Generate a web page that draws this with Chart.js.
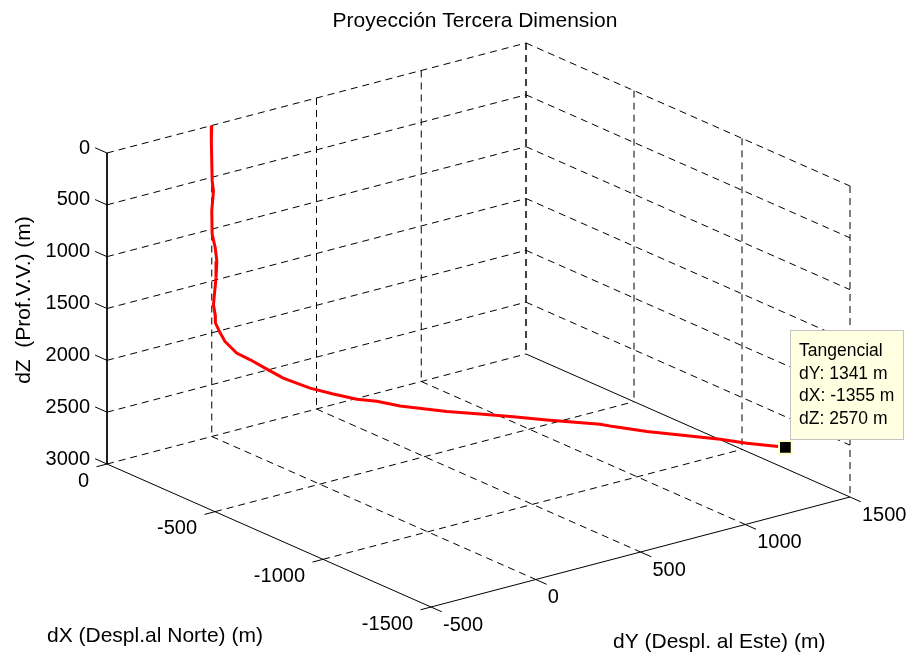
<!DOCTYPE html>
<html>
<head>
    <title>Proyección Tercera Dimension</title>
    <script src="https://cdn.jsdelivr.net/npm/chart.js"></script>
    <style>
        body { margin: 0; background: #fff; }
        canvas { display: block; }
    </style>
</head>
<body>
    <canvas id="pozo3d" width="913" height="659"></canvas>
    <script>
        // Trayectoria del pozo (m)
        const dY = [0, -1, 1, 4, 0, 1, 8, 12, 10, 4, 8, 8, 18, 31, 58, 90, 129, 167, 230, 284, 339, 386, 440, 550, 627, 705, 783, 908, 939, 1017, 1095, 1189, 1251, 1341];
        const dX = [0, 1, -1, -4, 0, -1, -8, -12, -10, -4, -8, -9, -18, -31, -59, -91, -130, -169, -232, -287, -343, -390, -445, -555, -634, -713, -792, -918, -949, -1028, -1107, -1201, -1264, -1355];
        const dZ = [0, 150, 534, 630, 825, 1050, 1173, 1304, 1463, 1726, 1822, 1899, 1979, 2071, 2172, 2224, 2299, 2370, 2442, 2476, 2505, 2506, 2529, 2541, 2532, 2527, 2527, 2519, 2530, 2547, 2548, 2552, 2566, 2570];

        // Marcas de los ejes
        const ticksX = [0, -500, -1000, -1500];
        const ticksY = [-500, 0, 500, 1000, 1500];
        const ticksZ = [0, 500, 1000, 1500, 2000, 2500, 3000];

        // Limites de la caja
        const limX = [-1500, 0];
        const limY = [-500, 1500];
        const limZ = [0, 3000];

        // Dato señalado al final del pozo
        const tipNombre = "Tangencial";
        const tipY = 1341, tipX = -1355, tipZ = 2570;

        // Vista: pixel de la esquina (dX=0, dY=-500, dZ=3000) y de los extremos de cada eje
        const vista = {
            origen: [107, 464],
            finX: [431, 607],   // dX = -1500
            finY: [526, 354],   // dY = 1500
            finZ: [107, 153]    // dZ = 0
        };

        function proyectar(x, y, z) {
            const fx = (limX[1] - x) / (limX[1] - limX[0]);
            const fy = (y - limY[0]) / (limY[1] - limY[0]);
            const fz = (limZ[1] - z) / (limZ[1] - limZ[0]);
            const o = vista.origen;
            return {
                x: o[0] + fx * (vista.finX[0] - o[0]) + fy * (vista.finY[0] - o[0]) + fz * (vista.finZ[0] - o[0]),
                y: o[1] + fx * (vista.finX[1] - o[1]) + fy * (vista.finY[1] - o[1]) + fz * (vista.finZ[1] - o[1])
            };
        }

        function linea(lista, a, b) {
            lista.push(proyectar(...a), proyectar(...b), { x: null, y: null });
        }

        // Rejilla punteada: paredes del fondo y piso
        const rejilla = [];
        ticksZ.forEach(z => linea(rejilla, [0, limY[0], z], [0, limY[1], z]));
        ticksY.slice(1).forEach(y => linea(rejilla, [0, y, limZ[0]], [0, y, limZ[1]]));
        ticksZ.slice(0, -1).forEach(z => linea(rejilla, [0, limY[1], z], [limX[0], limY[1], z]));
        ticksX.forEach(x => linea(rejilla, [x, limY[1], limZ[0]], [x, limY[1], limZ[1]]));
        ticksX.slice(1, -1).forEach(x => linea(rejilla, [x, limY[0], limZ[1]], [x, limY[1], limZ[1]]));
        ticksY.slice(1, -1).forEach(y => linea(rejilla, [0, y, limZ[1]], [limX[0], y, limZ[1]]));

        // Ejes y marcas
        const ejes = [];
        linea(ejes, [0, limY[0], limZ[0]], [0, limY[0], limZ[1]]);
        linea(ejes, [0, limY[0], limZ[1]], [limX[0], limY[0], limZ[1]]);
        linea(ejes, [limX[0], limY[0], limZ[1]], [limX[0], limY[1], limZ[1]]);
        linea(ejes, [0, limY[1], limZ[1]], [limX[0], limY[1], limZ[1]]);
        ticksZ.forEach(z => linea(ejes, [0, limY[0], z], [55, limY[0], z]));
        ticksX.forEach(x => linea(ejes, [x, limY[0], limZ[1]], [x, limY[0] - 50, limZ[1]]));
        ticksY.forEach(y => linea(ejes, [limX[0], y, limZ[1]], [limX[0] - 50, y, limZ[1]]));

        const trayectoria = dY.map((y, i) => proyectar(dX[i], y, dZ[i]));

        const fuente = px => px + 'px "Liberation Sans", Arial, sans-serif';

        // Textos: titulo, etiquetas de ejes, valores de marcas y cuadro del dato
        const textos = {
            id: 'textos',
            afterDraw(chart) {
                const ctx = chart.ctx;
                ctx.save();
                ctx.fillStyle = '#000';

                ctx.font = fuente(21);
                ctx.textAlign = 'center';
                ctx.textBaseline = 'alphabetic';
                ctx.fillText('Proyección Tercera Dimension', 475, 27);

                ctx.textAlign = 'left';
                ctx.fillText('dX (Despl.al Norte) (m)', 47, 642);
                ctx.fillText('dY (Despl. al Este) (m)', 613, 648);

                ctx.save();
                ctx.translate(30, 300);
                ctx.rotate(-Math.PI / 2);
                ctx.textAlign = 'center';
                ctx.fillText('dZ  (Prof.V.V.) (m)', 0, 0);
                ctx.restore();

                ctx.font = fuente(20);
                ctx.textBaseline = 'middle';
                ctx.textAlign = 'right';
                ticksZ.forEach(z => {
                    const p = proyectar(0, limY[0], z);
                    ctx.fillText(String(z), p.x - 17, p.y - 5);
                });
                ticksX.forEach(x => {
                    const p = proyectar(x, limY[0], limZ[1]);
                    ctx.fillText(String(x), p.x - 18, p.y + 17);
                });
                ctx.textAlign = 'left';
                ticksY.forEach(y => {
                    const p = proyectar(limX[0], y, limZ[1]);
                    ctx.fillText(String(y), p.x + 12, p.y + 18);
                });

                // cuadro del dato
                ctx.fillStyle = '#ffffe1';
                ctx.strokeStyle = '#c4c4c4';
                ctx.lineWidth = 1;
                ctx.fillRect(791, 331, 112, 108);
                ctx.strokeRect(790.5, 330.5, 113, 109);
                ctx.fillStyle = '#000';
                ctx.font = fuente(17.5);
                ctx.textBaseline = 'alphabetic';
                const lineas = [tipNombre, 'dY: ' + tipY + ' m', 'dX: ' + tipX + ' m', 'dZ: ' + tipZ + ' m'];
                lineas.forEach((t, i) => ctx.fillText(t, 799, 356 + i * 22.7));
                ctx.restore();
            }
        };

        new Chart(document.getElementById('pozo3d'), {
            type: 'scatter',
            data: {
                datasets: [
                    {
                        data: [proyectar(tipX, tipY, tipZ)],
                        pointStyle: 'rect',
                        pointRadius: 9,
                        backgroundColor: '#000',
                        borderColor: '#ffffc8',
                        borderWidth: 2,
                        order: 0
                    },
                    {
                        data: trayectoria,
                        showLine: true,
                        borderColor: '#ff0000',
                        borderWidth: 3,
                        pointRadius: 0,
                        order: 1
                    },
                    {
                        data: ejes,
                        showLine: true,
                        spanGaps: false,
                        borderColor: '#000',
                        borderWidth: 1,
                        pointRadius: 0,
                        order: 2
                    },
                    {
                        data: rejilla,
                        showLine: true,
                        spanGaps: false,
                        borderColor: '#000',
                        borderWidth: 1,
                        borderDash: [7, 5],
                        pointRadius: 0,
                        order: 3
                    }
                ]
            },
            options: {
                responsive: false,
                animation: false,
                events: [],
                layout: { padding: 0, autoPadding: false },
                scales: {
                    x: { type: 'linear', min: 0, max: 913, display: false },
                    y: { type: 'linear', min: 0, max: 659, reverse: true, display: false }
                },
                plugins: {
                    legend: { display: false },
                    tooltip: { enabled: false }
                }
            },
            plugins: [textos]
        });
    </script>
</body>
</html>
